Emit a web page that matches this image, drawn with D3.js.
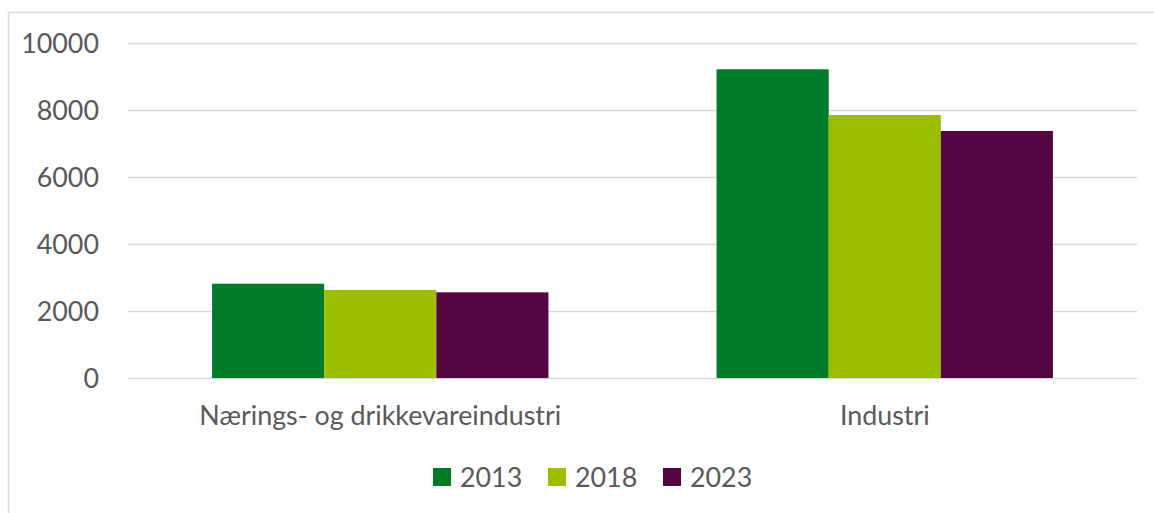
<!DOCTYPE html>
<html>
<head>
<meta charset="utf-8">
<script src="https://cdn.jsdelivr.net/npm/d3@7"></script>
<style>
  body { margin: 0; background: #fff; }
  text { font-family: Lato, "Open Sans", sans-serif; fill: #595959; }
</style>
</head>
<body>
<div id="chart"></div>
<script>
var categories = ["Nærings- og drikkevareindustri", "Industri"]
var years = ["2013", "2018", "2023"]
var values2013 = [2815, 9215]
var values2018 = [2627, 7850]
var values2023 = [2557, 7373]
var yTicks = [0, 2000, 4000, 6000, 8000, 10000]
var colors = ["#007C29", "#9BBF00", "#530641"]

var series = [values2013, values2018, values2023]

var width = 1154, height = 513
var margin = { left: 128, right: 17, top: 43, bottom: 135 }

var svg = d3.select("#chart").append("svg")
    .attr("width", width)
    .attr("height", height)

// outer chart border (only top + left show in the crop)
svg.append("rect")
    .attr("x", 8.5).attr("y", 12.5)
    .attr("width", width + 20).attr("height", height + 20)
    .attr("fill", "none")
    .attr("stroke", "#d9d9d9")
    .attr("stroke-width", 1.5)

var x = d3.scaleBand()
    .domain(categories)
    .range([margin.left, width - margin.right])
    .padding(0)

var y = d3.scaleLinear()
    .domain([0, 10000])
    .range([height - margin.bottom, margin.top])

// gap width 150% like excel
var barW = x.bandwidth() / 4.5
var x1 = d3.scaleBand()
    .domain(years)
    .range([barW * 0.75, barW * 3.75])

// gridlines
svg.append("g").selectAll("line")
    .data(yTicks)
    .enter().append("line")
    .attr("x1", margin.left)
    .attr("x2", width - margin.right)
    .attr("y1", function (d) { return Math.round(y(d)) + 0.5 })
    .attr("y2", function (d) { return Math.round(y(d)) + 0.5 })
    .attr("stroke", "#d9d9d9")
    .attr("stroke-width", 1.5)

var fs = 26

var yLab = svg.append("g").selectAll("text")
    .data(yTicks)
    .enter().append("text")
    .attr("x", 99)
    .attr("y", function (d) { return y(d) + 10 })
    .attr("text-anchor", "end")
    .style("font-size", fs + "px")
    .text(function (d) { return d })

// bars
years.forEach(function (yr, si) {
    svg.append("g").selectAll("rect")
        .data(categories)
        .enter().append("rect")
        .attr("x", function (c) { return x(c) + x1(yr) })
        .attr("width", x1.bandwidth())
        .attr("y", function (c, i) { return y(series[si][i]) })
        .attr("height", function (c, i) { return y(0) - y(series[si][i]) })
        .attr("fill", colors[si])
})

// category labels
var catLab = svg.append("g").selectAll("text")
    .data(categories)
    .enter().append("text")
    .attr("x", function (c) { return x(c) + x.bandwidth() / 2 })
    .attr("y", 425)
    .attr("text-anchor", "middle")
    .style("font-size", fs + "px")
    .text(function (c) { return c })

// scale font to match reference label width
var w = catLab.node().getComputedTextLength()
fs = fs * 362 / w
svg.selectAll("text").style("font-size", fs + "px")

// legend
var legend = svg.append("g").selectAll("g")
    .data(years)
    .enter().append("g")
    .attr("transform", function (d, i) { return "translate(" + (433 + i * 115) + ",0)" })

legend.append("rect")
    .attr("x", 0).attr("y", 468)
    .attr("width", 18).attr("height", 18)
    .attr("fill", function (d, i) { return colors[i] })

legend.append("text")
    .attr("x", 27)
    .attr("y", 487)
    .style("font-size", fs + "px")
    .text(function (d) { return d })
</script>
</body>
</html>
